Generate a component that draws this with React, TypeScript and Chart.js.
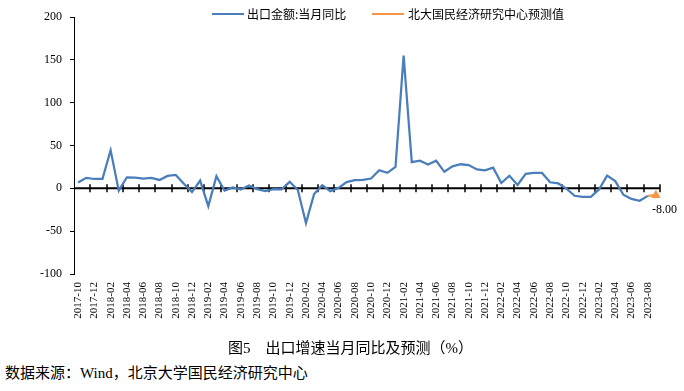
import React, { useEffect, useRef } from "react";
import { Chart, registerables } from "chart.js";

Chart.register(...registerables);

const months: string[] = [
  "2017-10","2017-11","2017-12",
  "2018-01","2018-02","2018-03","2018-04","2018-05","2018-06","2018-07","2018-08","2018-09","2018-10","2018-11","2018-12",
  "2019-01","2019-02","2019-03","2019-04","2019-05","2019-06","2019-07","2019-08","2019-09","2019-10","2019-11","2019-12",
  "2020-01","2020-02","2020-03","2020-04","2020-05","2020-06","2020-07","2020-08","2020-09","2020-10","2020-11","2020-12",
  "2021-01","2021-02","2021-03","2021-04","2021-05","2021-06","2021-07","2021-08","2021-09","2021-10","2021-11","2021-12",
  "2022-01","2022-02","2022-03","2022-04","2022-05","2022-06","2022-07","2022-08","2022-09","2022-10","2022-11","2022-12",
  "2023-01","2023-02","2023-03","2023-04","2023-05","2023-06","2023-07","2023-08","2023-09",
];

const exportYoY: (number | null)[] = [
  6.9, 12.3, 10.9,
  11.1, 44.5, -2.7, 12.9, 12.6, 11.3, 12.2, 9.8, 14.5, 15.6, 5.4, -4.4,
  9.1, -20.8, 14.2, -2.7, 1.1, -1.3, 3.3, -1.0, -3.2, -0.9, -1.1, 7.6,
  -2.0, -40.6, -6.6, 3.5, -3.3, 0.5, 7.2, 9.5, 9.9, 11.4, 21.1, 18.1,
  24.9, 154.9, 30.6, 32.3, 27.9, 32.2, 19.3, 25.6, 28.1, 27.1, 22.0, 20.9,
  24.1, 6.2, 14.7, 3.9, 16.9, 17.9, 18.0, 7.1, 5.7, -0.3, -8.7, -9.9,
  -10.0, -1.3, 14.8, 8.5, -7.5, -12.4, -14.5, -8.8, null,
];

const forecastIndexFrom = 70;
const forecastValues: number[] = [-8.8, -8.0];
const forecastLabel = "-8.00";

const yTicks: number[] = [-100, -50, 0, 50, 100, 150, 200];

const seriesNames: string[] = ["出口金额:当月同比", "北大国民经济研究中心预测值"];
const captionText = "图5\u3000出口增速当月同比及预测（%）";
const sourceText = "数据来源：Wind，北京大学国民经济研究中心";

const BLUE = "#4A7EBB";
const ORANGE = "#F79646";

export default function App() {
  const ref = useRef<HTMLCanvasElement | null>(null);

  useEffect(() => {
    if (!ref.current) return;
    const forecast: (number | null)[] = months.map(() => null);
    forecastValues.forEach((v, i) => (forecast[forecastIndexFrom + i] = v));

    const axisPlugin = {
      id: "zeroAxis",
      beforeDatasetsDraw(chart: any) {
        const { ctx, chartArea, scales } = chart;
        const y0 = scales.y.getPixelForValue(0);
        ctx.save();
        ctx.strokeStyle = "#000";
        ctx.lineWidth = 2;
        ctx.beginPath();
        ctx.moveTo(chartArea.left, y0);
        ctx.lineTo(chartArea.right, y0);
        ctx.stroke();
        const n = months.length;
        const w = (chartArea.right - chartArea.left) / n;
        ctx.lineWidth = 1.5;
        for (let k = 2; k <= n; k += 2) {
          const x = Math.round(chartArea.left + k * w);
          ctx.beginPath();
          ctx.moveTo(x, y0 - 4);
          ctx.lineTo(x, y0 + 4);
          ctx.stroke();
        }
        ctx.restore();
      },
      afterDatasetsDraw(chart: any) {
        const { ctx } = chart;
        const meta = chart.getDatasetMeta(1);
        const pt = meta.data[months.length - 1];
        if (!pt) return;
        ctx.save();
        ctx.fillStyle = "#000";
        ctx.font = '12px "Liberation Serif", serif';
        ctx.textAlign = "left";
        ctx.textBaseline = "middle";
        ctx.fillText(forecastLabel, pt.x - 4, pt.y + 15);
        ctx.restore();
      },
    };

    const chart = new Chart(ref.current, {
      type: "line",
      data: {
        labels: months,
        datasets: [
          {
            label: seriesNames[0],
            data: exportYoY,
            borderColor: BLUE,
            borderWidth: 2.25,
            pointRadius: 0,
            tension: 0,
            spanGaps: false,
          },
          {
            label: seriesNames[1],
            data: forecast,
            borderColor: ORANGE,
            backgroundColor: ORANGE,
            borderWidth: 2.25,
            pointStyle: "triangle",
            pointRadius: (c: any) => (c.dataIndex === months.length - 1 ? 5.5 : 0),
            pointBorderWidth: 0,
            tension: 0,
          },
        ],
      },
      options: {
        animation: false,
        responsive: false,
        maintainAspectRatio: false,
        layout: { padding: { top: 17, right: 24, left: 0, bottom: 0 } },
        plugins: { legend: { display: false }, tooltip: { enabled: false } },
        scales: {
          x: {
            type: "category",
            offset: true,
            grid: { display: false, drawTicks: false },
            border: { display: false },
            ticks: {
              autoSkip: false,
              minRotation: 90,
              maxRotation: 90,
              padding: 8,
              color: "#000",
              font: { family: '"Liberation Serif", serif', size: 11 },
              callback: (_v: any, i: number) => (i % 2 === 0 ? months[i] : ""),
            },
            afterFit: (s: any) => {
              s.height = 66;
            },
          },
          y: {
            min: yTicks[0],
            max: yTicks[yTicks.length - 1],
            afterBuildTicks: (s: any) => {
              s.ticks = yTicks.map((v) => ({ value: v }));
            },
            grid: {
              drawOnChartArea: false,
              drawTicks: true,
              tickLength: 4,
              color: "#000",
            },
            border: { display: true, color: "#000", width: 1 },
            ticks: {
              padding: 8,
              color: "#000",
              font: { family: '"Liberation Serif", serif', size: 12 },
            },
            afterFit: (s: any) => {
              s.width = 74;
            },
          },
        },
      },
      plugins: [axisPlugin],
    } as any);
    return () => chart.destroy();
  }, []);

  const legendText: React.CSSProperties = {
    position: "absolute",
    top: 5,
    fontFamily: '"Noto Sans CJK SC", sans-serif',
    fontSize: 12,
    lineHeight: "18px",
    color: "#000",
    whiteSpace: "nowrap",
  };

  return (
    <div style={{ position: "absolute", left: 0, top: 0, width: 684, height: 391, background: "#fff", overflow: "hidden" }}>
      <canvas ref={ref} width={684} height={340} style={{ position: "absolute", left: 0, top: 0, width: 684, height: 340 }} />
      <div style={{ position: "absolute", left: 212, top: 13, width: 32, height: 2, background: BLUE }} />
      <div style={{ ...legendText, left: 247 }}>{seriesNames[0]}</div>
      <div style={{ position: "absolute", left: 372, top: 13, width: 32, height: 2, background: ORANGE }} />
      <div style={{ ...legendText, left: 408 }}>{seriesNames[1]}</div>
      <div
        style={{
          position: "absolute",
          left: 228,
          top: 339,
          fontFamily: '"Liberation Serif", "Noto Sans CJK SC", serif',
          fontSize: 15,
          lineHeight: "18px",
          color: "#000",
          whiteSpace: "pre",
        }}
      >
        {captionText}
      </div>
      <div
        style={{
          position: "absolute",
          left: 5,
          top: 364,
          fontFamily: '"Liberation Serif", "Noto Sans CJK SC", serif',
          fontSize: 15,
          lineHeight: "18px",
          color: "#000",
          whiteSpace: "pre",
        }}
      >
        {sourceText}
      </div>
    </div>
  );
}
